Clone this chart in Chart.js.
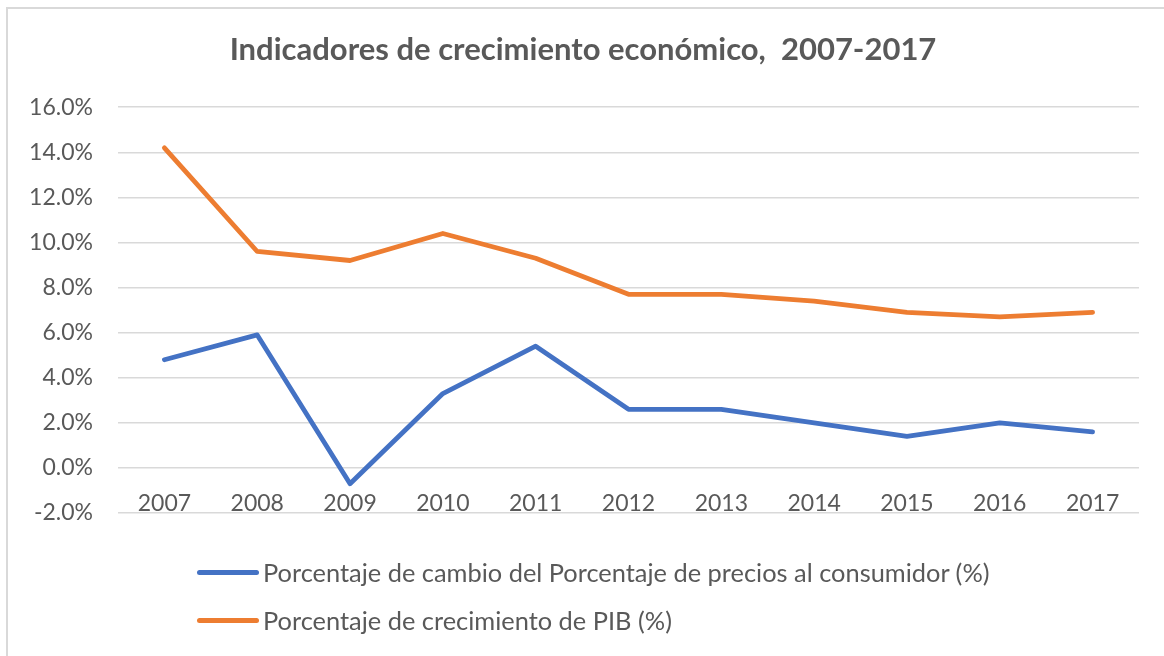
<!DOCTYPE html>
<html>
<head>
<meta charset="utf-8">
<script src="https://cdn.jsdelivr.net/npm/chart.js@4.4.1/dist/chart.umd.min.js"></script>
<style>
  html, body { margin: 0; padding: 0; background: #fff; }
  #wrap {
    position: relative;
    width: 1164px;
    height: 656px;
    overflow: hidden;
  }
  #frame {
    position: absolute;
    left: 6px;
    top: 7px;
    width: 1200px;
    height: 700px;
    border-left: 2px solid #d9d9d9;
    border-top: 2px solid #d9d9d9;
    box-sizing: border-box;
    pointer-events: none;
  }
  #chart { position: absolute; left: 0; top: 0; }
  #legend {
    position: absolute;
    left: 197px;
    top: 548px;
    font-family: Lato, 'Open Sans', sans-serif;
    font-size: 25.4px;
    color: #595959;
  }
  .item { display: flex; align-items: center; height: 48px; }
  .swatch { width: 62px; height: 5px; border-radius: 3px; margin-right: 4px; }
</style>
</head>
<body>
<div id="wrap">
  <canvas id="chart" width="1164" height="656"></canvas>
  <div id="frame"></div>
  <div id="legend"></div>
</div>
<script>
// ── Datos ──────────────────────────────────────────────
const YEARS = ['2007','2008','2009','2010','2011','2012','2013','2014','2015','2016','2017'];

const IPC_LABEL = 'Porcentaje de cambio del Porcentaje de precios al consumidor (%)';
const IPC = [4.8, 5.9, -0.7, 3.3, 5.4, 2.6, 2.6, 2.0, 1.4, 2.0, 1.6];

const PIB_LABEL = 'Porcentaje de crecimiento de PIB (%)';
const PIB = [14.2, 9.6, 9.2, 10.4, 9.3, 7.7, 7.7, 7.4, 6.9, 6.7, 6.9];

const Y_MIN = -2, Y_MAX = 16, Y_STEP = 2;

const TITLE = 'Indicadores de crecimiento económico,  2007-2017';

// ── Tema ───────────────────────────────────────────────
const COLORS = { blue: '#4472c4', orange: '#ed7d31', text: '#595959', grid: '#d9d9d9' };
const FONT = "Lato, 'Open Sans', sans-serif";

Chart.defaults.font.family = FONT;
Chart.defaults.color = COLORS.text;

const datasets = [
  { label: IPC_LABEL, data: IPC, borderColor: COLORS.blue },
  { label: PIB_LABEL, data: PIB, borderColor: COLORS.orange },
].map(d => ({
  ...d,
  backgroundColor: d.borderColor,
  borderWidth: 4.8,
  borderCapStyle: 'round',
  borderJoinStyle: 'round',
  pointRadius: 0,
  tension: 0,
  fill: false,
}));

const chart = new Chart(document.getElementById('chart'), {
  type: 'line',
  data: { labels: YEARS, datasets },
  options: {
    responsive: false,
    animation: false,
    layout: { padding: { left: 27, right: 25, top: 0, bottom: 143 } },
    plugins: {
      legend: { display: false },
      tooltip: { enabled: false },
      title: {
        display: true,
        text: TITLE,
        color: COLORS.text,
        font: { size: 31, weight: 'bold', family: FONT },
        padding: { top: 31, bottom: 39 },
      },
    },
    scales: {
      x: {
        position: { y: 0 },
        offset: true,
        grid: { display: false },
        border: { display: false },
        ticks: { font: { size: 23 }, color: COLORS.text, padding: 14, maxRotation: 0 },
      },
      y: {
        min: Y_MIN,
        max: Y_MAX,
        afterFit: s => { s.width = 91; },
        grid: { color: COLORS.grid, lineWidth: 1.5, drawTicks: false },
        border: { display: false },
        ticks: {
          stepSize: Y_STEP,
          padding: 25,
          font: { size: 23 },
          color: COLORS.text,
          callback: v => v.toFixed(1) + '%',
        },
      },
    },
  },
});

// Leyenda en HTML, una fila por serie
const legend = document.getElementById('legend');
chart.data.datasets.forEach(ds => {
  const row = document.createElement('div');
  row.className = 'item';
  const sw = document.createElement('span');
  sw.className = 'swatch';
  sw.style.background = ds.borderColor;
  const txt = document.createElement('span');
  txt.textContent = ds.label;
  row.appendChild(sw);
  row.appendChild(txt);
  legend.appendChild(row);
});
</script>
</body>
</html>
